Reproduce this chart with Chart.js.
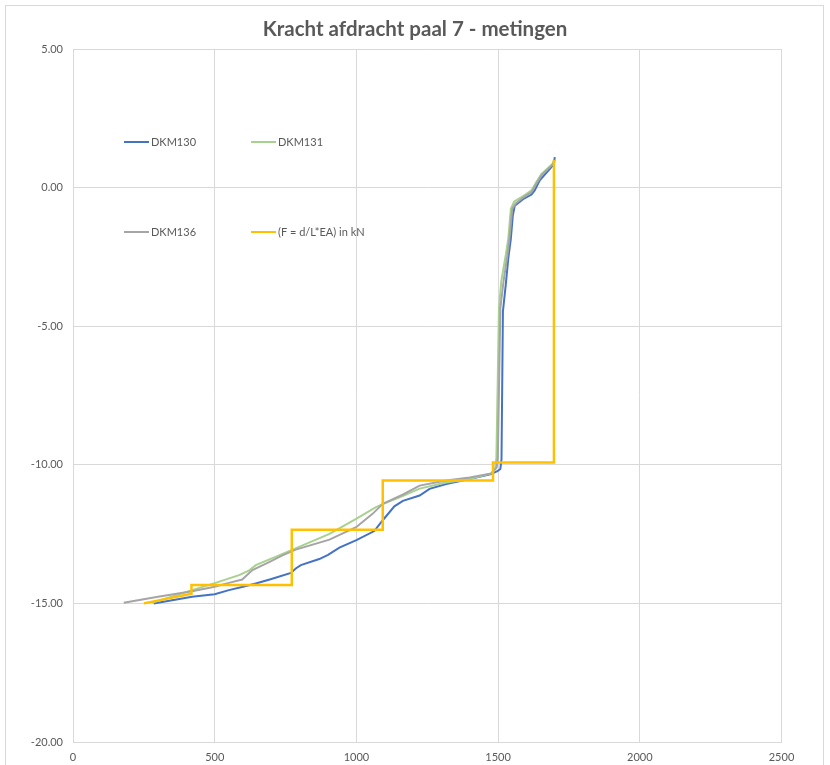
<!DOCTYPE html>
<html>
<head>
<meta charset="utf-8">
<script src="https://cdn.jsdelivr.net/npm/chart.js@4.4.1/dist/chart.umd.min.js"></script>
<style>
  html, body { margin: 0; padding: 0; background: #fff; }
  #wrap { width: 830px; height: 765px; position: relative; }
</style>
</head>
<body>
<div id="wrap"><canvas id="myChart" width="830" height="765"></canvas></div>
<script>
// meetpunten per rekstrookmeter: [x, kracht]
const dkm130 = [
  [285,-15.0],[420,-14.76],[500,-14.67],[550,-14.52],[600,-14.40],[645,-14.28],[700,-14.12],
  [769,-13.90],[786,-13.74],[804,-13.62],[869,-13.40],[900,-13.25],[940,-12.99],[1000,-12.72],
  [1063,-12.39],[1093,-12.0],[1134,-11.50],[1164,-11.30],[1223,-11.11],[1258,-10.87],
  [1317,-10.69],[1400,-10.51],[1476,-10.33],[1499,-10.22],[1508,-10.15],[1512,-9.8],
  [1517,-4.47],[1527,-3.51],[1536,-2.55],[1545,-1.84],[1552,-1.0],[1559,-0.65],[1588,-0.42],
  [1618,-0.25],[1629,-0.10],[1647,0.26],[1682,0.67],[1697,0.85],[1700,1.1]
];
const dkm131 = [
  [279,-14.98],[420,-14.52],[500,-14.27],[586,-13.98],[620,-13.82],[645,-13.62],[727,-13.27],
  [775,-13.06],[905,-12.49],[999,-11.95],[1069,-11.53],[1093,-11.42],[1163,-11.13],
  [1223,-10.86],[1317,-10.64],[1400,-10.51],[1476,-10.31],[1490,-10.1],[1494,-9.74],
  [1503,-4.35],[1511,-3.39],[1527,-2.43],[1536,-1.84],[1545,-0.76],[1557,-0.50],[1590,-0.30],
  [1618,-0.10],[1635,0.20],[1653,0.49],[1692,0.85],[1698,1.0]
];
const dkm136 = [
  [179,-14.98],[300,-14.76],[420,-14.56],[500,-14.40],[550,-14.26],[597,-14.14],[633,-13.80],
  [692,-13.51],[739,-13.27],[786,-13.06],[905,-12.70],[999,-12.25],[1057,-11.77],[1093,-11.41],
  [1163,-11.08],[1223,-10.75],[1317,-10.57],[1400,-10.46],[1476,-10.31],[1495,-10.1],
  [1499,-9.74],[1508,-4.35],[1519,-3.39],[1533,-2.43],[1540,-1.84],[1550,-0.76],[1563,-0.56],
  [1590,-0.35],[1618,-0.16],[1635,0.14],[1653,0.44],[1694,0.85],[1699,1.0]
];
// berekende kracht F = d/L*EA
const krachtF = [
  [250,-15.0],[418,-14.65],[418,-14.34],[772,-14.34],[772,-12.34],[1093,-12.34],
  [1093,-10.57],[1482,-10.57],[1482,-9.92],[1697,-9.92],[1697,1.0]
];
const xTicks = [0, 500, 1000, 1500, 2000, 2500];
const yTicks = [-20, -15, -10, -5, 0, 5];

const toPts = arr => arr.map(p => ({x: p[0], y: p[1]}));
const gridKleur = '#d9d9d9';
const tekstKleur = '#595959';

function serie(label, data, kleur, dikte, volgorde) {
  return {
    label: label,
    data: toPts(data),
    showLine: true,
    borderColor: kleur,
    backgroundColor: kleur,
    borderWidth: dikte,
    pointRadius: 0,
    tension: 0,
    order: volgorde
  };
}

// kader rond de grafiek + legenda in het plotvlak
const kaderEnLegenda = {
  id: 'kaderEnLegenda',
  beforeDraw(chart) {
    const c = chart.ctx;
    c.save();
    c.fillStyle = '#fff';
    c.fillRect(0, 0, chart.width, chart.height);
    c.strokeStyle = gridKleur;
    c.lineWidth = 1;
    c.strokeRect(5.5, 5.5, 818, 800);
    c.restore();
  },
  afterDraw(chart) {
    const c = chart.ctx;
    const plekken = [[124, 142], [251, 142], [124, 232], [251, 232]];
    c.save();
    c.font = '11px Lato';
    c.textBaseline = 'middle';
    chart.data.datasets.forEach((ds, i) => {
      const [lx, ly] = plekken[i];
      c.strokeStyle = ds.borderColor;
      c.lineWidth = 2;
      c.beginPath();
      c.moveTo(lx, ly);
      c.lineTo(lx + 25, ly);
      c.stroke();
      c.fillStyle = tekstKleur;
      c.fillText(ds.label, lx + 27, ly);
    });
    c.restore();
  }
};

var ctx = document.getElementById('myChart').getContext('2d');
var chart = new Chart(ctx, {
  type: 'scatter',
  data: {
    datasets: [
      serie('DKM130', dkm130, '#4472C4', 2, 3),
      serie('DKM131', dkm131, '#A9D18E', 2, 2),
      serie('DKM136', dkm136, '#A5A5A5', 2, 1),
      serie('(F = d/L*EA) in kN', krachtF, '#FFC000', 2.5, 0)
    ]
  },
  options: {
    responsive: false,
    animation: false,
    layout: { padding: 0 },
    plugins: {
      legend: { display: false },
      tooltip: { enabled: false },
      title: {
        display: true,
        text: 'Kracht afdracht paal 7 - metingen',
        color: tekstKleur,
        font: { family: 'Lato', size: 20.5, weight: 'bold', lineHeight: 1.2 },
        padding: { top: 17, bottom: 7.4 }
      }
    },
    scales: {
      x: {
        type: 'linear',
        min: 0, max: 2500,
        afterBuildTicks: s => { s.ticks = xTicks.map(v => ({value: v})); },
        afterFit: s => { s.height = 23; },
        grid: { color: gridKleur, drawTicks: false },
        border: { color: gridKleur },
        ticks: {
          color: tekstKleur, padding: 9, font: { family: 'Lato', size: 11 },
          callback: v => String(v)
        }
      },
      y: {
        type: 'linear',
        min: -20, max: 5,
        afterBuildTicks: s => { s.ticks = yTicks.map(v => ({value: v})); },
        afterFit: s => { s.width = 73; },
        grid: { color: gridKleur, drawTicks: false },
        border: { color: gridKleur },
        ticks: {
          color: tekstKleur, padding: 10, font: { family: 'Lato', size: 11 },
          callback: v => v.toFixed(2)
        }
      },
      // lege rechteras: houdt ruimte vrij rechts van het plotvlak
      rechts: {
        type: 'linear',
        position: 'right',
        min: -20, max: 5,
        afterFit: s => { s.width = 48.5; },
        grid: { display: false },
        border: { display: false },
        ticks: { display: false }
      }
    }
  },
  plugins: [kaderEnLegenda]
});
</script>
</body>
</html>
